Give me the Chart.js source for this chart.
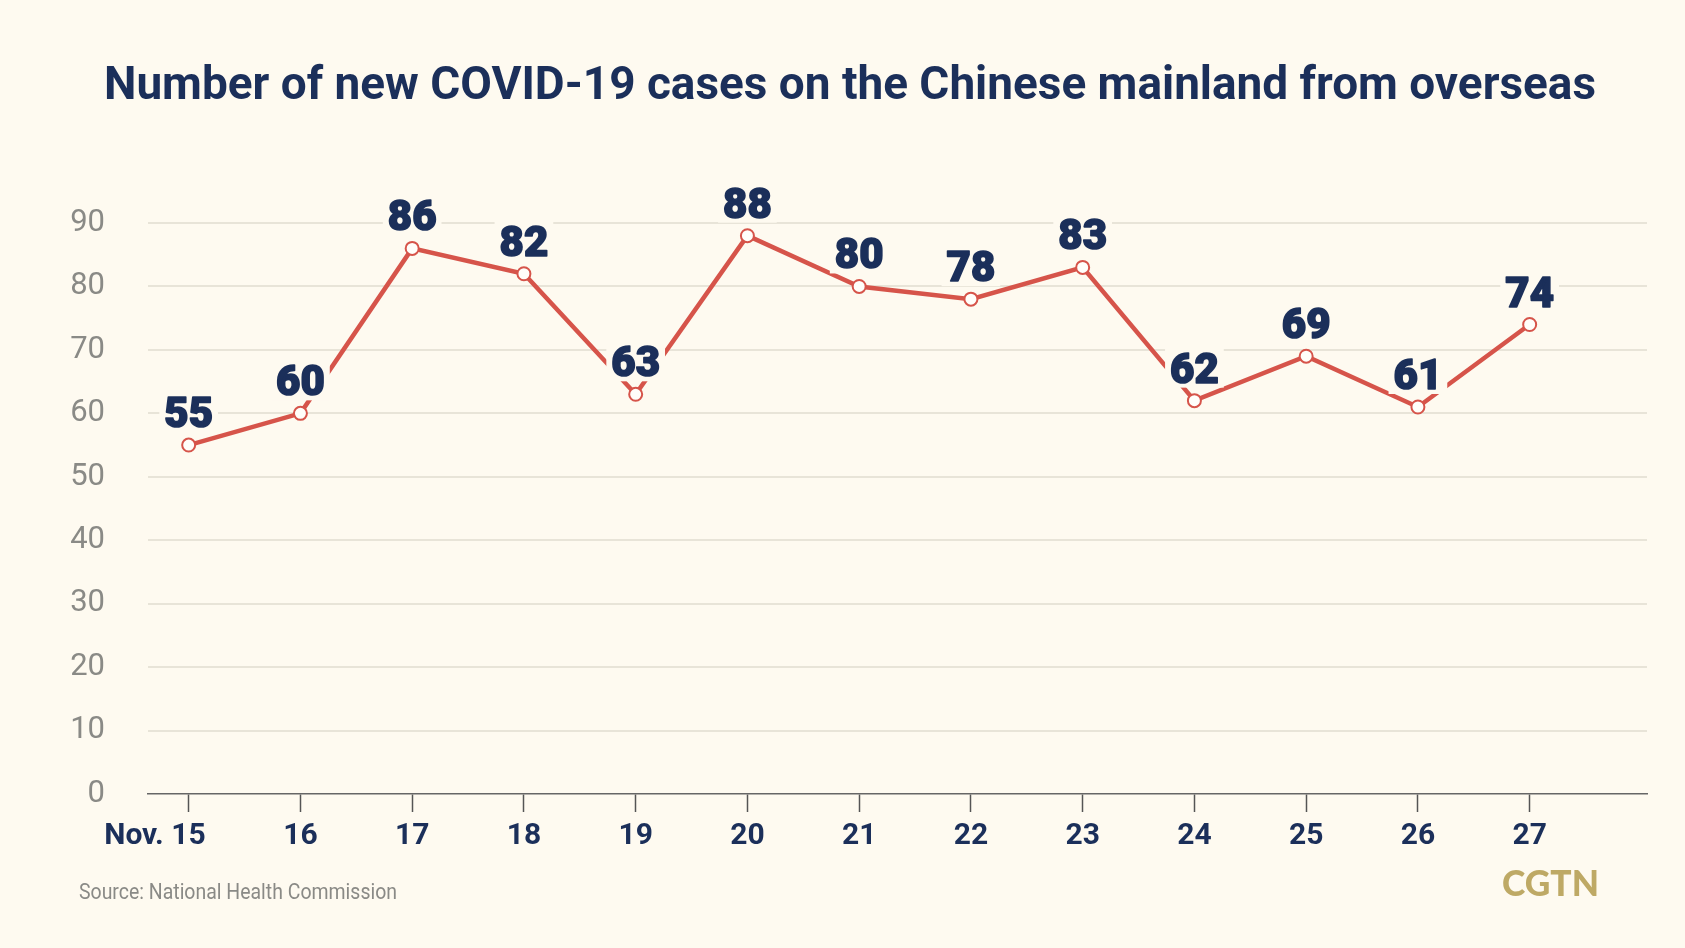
<!DOCTYPE html>
<html>
<head>
<meta charset="utf-8">
<script src="https://cdn.jsdelivr.net/npm/chart.js@4.4.0/dist/chart.umd.min.js"></script>
<style>
  html, body { margin: 0; padding: 0; background: #fefaf0; }
  #wrap { position: relative; width: 1685px; height: 948px; background: #fefaf0; overflow: hidden; }
  #chart { position: absolute; left: 0; top: 0; }
  .txt { position: absolute; white-space: nowrap; transform-origin: 0 0; }
  #title { left: 104px; top: 0; color: #1b2f5a; font-family: 'Liberation Sans Narrow', 'Roboto', sans-serif; font-weight: bold; font-size: 51px; line-height: 1; }
  #source { left: 79px; top: 0; color: #8a8a86; font-family: 'Liberation Sans Narrow', 'Roboto', sans-serif; font-size: 22px; line-height: 1; }
  #logo { left: 1502px; top: 0; color: #bea965; font-family: 'Lato', 'Roboto', sans-serif; font-weight: 900; font-size: 36px; line-height: 1; }
</style>
</head>
<body>
<div id="wrap">
  <canvas id="chart" width="1685" height="948"></canvas>
  <div id="title" class="txt">Number of new COVID-19 cases on the Chinese mainland from overseas</div>
  <div id="source" class="txt">Source: National Health Commission</div>
  <div id="logo" class="txt">CGTN</div>
</div>
<script>
// ---- data ----
const dateLabels = ['Nov. 15', '16', '17', '18', '19', '20', '21', '22', '23', '24', '25', '26', '27'];
const newCases = [55, 60, 86, 82, 63, 88, 80, 78, 83, 62, 69, 61, 74];
const yTickValues = [0, 10, 20, 30, 40, 50, 60, 70, 80, 90];

// ---- styles ----
const BG = '#fefaf0';
const NAVY = '#1b2f5a';
const LINE_RED = '#d6544a';
const NARROW = "'Liberation Sans Narrow', 'Roboto', sans-serif";
const BOLD_NUM = "'Roboto', sans-serif";
const X_FONT = { family: NARROW, size: 30, weight: 'bold' };

// place overlay text by cap-height / width
function fitText(id, leftX, rightX, capTop, baseline) {
  const el = document.getElementById(id);
  const cs = getComputedStyle(el);
  const c = document.createElement('canvas').getContext('2d');
  c.font = cs.fontWeight + ' ' + cs.fontSize + ' ' + cs.fontFamily;
  const m = c.measureText(el.textContent);
  const capH = m.actualBoundingBoxAscent;
  const size = parseFloat(cs.fontSize);
  const targetCap = baseline - capTop;
  const newSize = size * targetCap / capH;
  el.style.fontSize = newSize + 'px';
  c.font = cs.fontWeight + ' ' + newSize + 'px ' + cs.fontFamily;
  const m2 = c.measureText(el.textContent);
  const sx = rightX ? (rightX - leftX) / m2.width : 1;
  const asc = m2.fontBoundingBoxAscent, desc = m2.fontBoundingBoxDescent;
  const half = (newSize - (asc + desc)) / 2;
  el.style.top = (baseline - (half + asc)) + 'px';
  el.style.transform = 'scaleX(' + sx + ')';
}
fitText('title', 105, 1597, 62.7, 99.3);
fitText('source', 79, 397, 882.7, 899);
fitText('logo', 1502, 1599, 870, 896);

// padding for "Nov. 15" so that the day number sits centered on its tick
const measureCtx = document.createElement('canvas').getContext('2d');
measureCtx.font = 'bold 30px ' + NARROW;
function xLabel(i) {
  const s = dateLabels[i];
  const parts = s.split(' ');
  if (parts.length < 2) return s;
  const prefixW = measureCtx.measureText(parts[0] + ' ').width;
  const spaceW = measureCtx.measureText('\u2007').width;
  const n = Math.round(prefixW / spaceW);
  return s + '\u2007'.repeat(n);
}

const labelPlugin = {
  id: 'valueLabels',
  afterDatasetsDraw(chart) {
    const ctx = chart.ctx;
    const meta = chart.getDatasetMeta(0);
    ctx.save();
    ctx.font = '900 42px ' + BOLD_NUM;
    ctx.textAlign = 'center';
    ctx.textBaseline = 'alphabetic';
    ctx.lineJoin = 'round';
    meta.data.forEach((pt, i) => {
      const txt = String(newCases[i]);
      const m = ctx.measureText(txt);
      const base = pt.y - 18;
      const h = m.actualBoundingBoxAscent;
      ctx.fillStyle = BG;
      ctx.fillRect(pt.x - m.width / 2 - 5, base - h - 5, m.width + 10, h + 10);
      ctx.fillStyle = NAVY;
      ctx.strokeStyle = NAVY;
      ctx.lineWidth = 1.6;
      ctx.fillText(txt, pt.x, base);
      ctx.strokeText(txt, pt.x, base);
    });
    ctx.restore();
  }
};

const bgPlugin = {
  id: 'bg',
  beforeDraw(chart) {
    const c = chart.ctx;
    c.save();
    c.fillStyle = BG;
    c.fillRect(0, 0, chart.width, chart.height);
    c.restore();
  }
};

new Chart(document.getElementById('chart'), {
  type: 'line',
  data: {
    datasets: [{
      data: newCases.map((v, i) => ({ x: i, y: v })),
      borderColor: LINE_RED,
      borderWidth: 4.5,
      tension: 0,
      pointRadius: 6.5,
      pointBorderWidth: 2,
      pointBackgroundColor: '#fffefa',
      pointBorderColor: LINE_RED,
      clip: false
    }]
  },
  options: {
    responsive: false,
    animation: false,
    events: [],
    layout: { padding: { left: 0, right: 38, top: 223, bottom: 0 } },
    plugins: { legend: { display: false }, tooltip: { enabled: false }, title: { display: false } },
    scales: {
      x: {
        type: 'linear',
        min: -0.364,
        max: 13.05,
        afterBuildTicks(scale) {
          scale.ticks = dateLabels.map((_, i) => ({ value: i }));
        },
        afterFit(scale) { scale.height = 154; },
        ticks: {
          includeBounds: false,
          stepSize: 1,
          autoSkip: false,
          maxRotation: 0,
          padding: 6,
          color: NAVY,
          font: X_FONT,
          callback: (v) => Number.isInteger(v) && v >= 0 && v < dateLabels.length ? xLabel(v) : ''
        },
        grid: {
          drawOnChartArea: false,
          drawTicks: true,
          tickLength: 18,
          tickColor: '#555555',
          tickWidth: 1.5
        },
        border: { display: true, color: '#666666', width: 1.5 }
      },
      y: {
        min: 0,
        max: 90,
        afterBuildTicks(scale) {
          scale.ticks = yTickValues.map(v => ({ value: v }));
        },
        afterFit(scale) { scale.width = 148; },
        ticks: {
          padding: 43,
          color: '#8a8a86',
          font: { family: NARROW, size: 31 }
        },
        grid: {
          drawTicks: false,
          color: (ctx) => ctx.tick && ctx.tick.value === 0 ? 'rgba(0,0,0,0)' : '#e8e4d8',
          lineWidth: 2
        },
        border: { display: false }
      }
    }
  },
  plugins: [bgPlugin, labelPlugin]
});
</script>
</body>
</html>
